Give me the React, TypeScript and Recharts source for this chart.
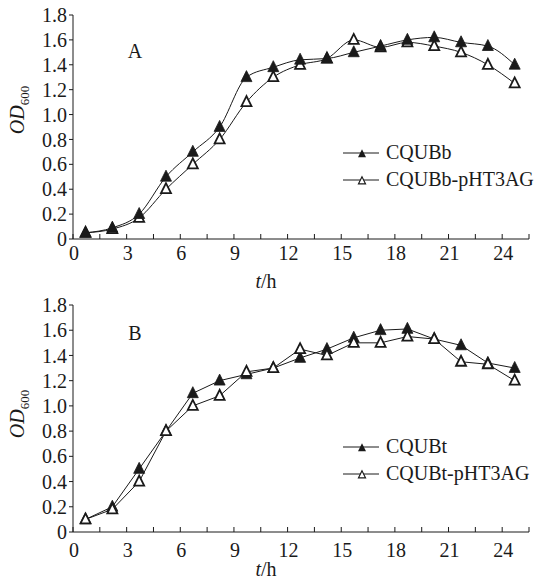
import React from 'react';
import { LineChart, Line, XAxis, YAxis, Legend } from 'recharts';

// ---- data ----
const hoursA = [0.7, 2.2, 3.7, 5.2, 6.7, 8.2, 9.7, 11.2, 12.7, 14.2, 15.7, 17.2, 18.7, 20.2, 21.7, 23.2, 24.7];
const cqubb = [0.05, 0.09, 0.2, 0.5, 0.7, 0.9, 1.3, 1.38, 1.44, 1.45, 1.5, 1.55, 1.6, 1.62, 1.58, 1.55, 1.4];
const cqubbPHT = [0.05, 0.08, 0.17, 0.4, 0.6, 0.8, 1.1, 1.3, 1.4, 1.45, 1.6, 1.54, 1.58, 1.55, 1.5, 1.4, 1.25];

const hoursB = [0.7, 2.2, 3.7, 5.2, 6.7, 8.2, 9.7, 11.2, 12.7, 14.2, 15.7, 17.2, 18.7, 20.2, 21.7, 23.2, 24.7];
const cqubt = [0.1, 0.2, 0.5, 0.8, 1.1, 1.2, 1.25, 1.3, 1.38, 1.45, 1.54, 1.6, 1.61, 1.53, 1.48, 1.34, 1.3];
const cqubtPHT = [0.1, 0.18, 0.4, 0.8, 1.0, 1.08, 1.27, 1.3, 1.45, 1.4, 1.5, 1.5, 1.55, 1.53, 1.35, 1.33, 1.2];

const namesA = ['CQUBb', 'CQUBb-pHT3AG'];
const namesB = ['CQUBt', 'CQUBt-pHT3AG'];

const xTicks = [0, 1.5, 3, 4.5, 6, 7.5, 9, 10.5, 12, 13.5, 15, 16.5, 18, 19.5, 21, 22.5, 24, 25.5];
const xLabelTicks = [0, 3, 6, 9, 12, 15, 18, 21, 24];
const yTicks = [0, 0.2, 0.4, 0.6, 0.8, 1.0, 1.2, 1.4, 1.6, 1.8];

const FONT = '"Liberation Serif", "Times New Roman", serif';
const INK = '#1a1a1a';

const triPoints = (cx: number, cy: number, w: number) =>
  `${cx},${cy - w * 0.6} ${cx - w / 2},${cy + w * 0.4} ${cx + w / 2},${cy + w * 0.4}`;

const FilledDot = (props: any) => {
  const { cx, cy, index } = props;
  if (cx == null || cy == null) return <g key={`f${index}`} />;
  return <polygon key={`f${index}`} points={triPoints(cx, cy, 11)} fill={INK} stroke={INK} strokeWidth={0.8} />;
};
const HollowDot = (props: any) => {
  const { cx, cy, index } = props;
  if (cx == null || cy == null) return <g key={`h${index}`} />;
  return <polygon key={`h${index}`} points={triPoints(cx, cy, 10)} fill="#fff" stroke={INK} strokeWidth={1.8} />;
};

const makeXTick = (margin: number, labelDy: number) => (props: any) => {
  const { x, y, payload } = props;
  const axisY = y - margin;
  const v = payload.value;
  return (
    <g>
      <line x1={x} x2={x} y1={axisY} y2={axisY - 5} stroke={INK} strokeWidth={1} />
      {xLabelTicks.includes(v) && (
        <text x={x + 1} y={axisY + labelDy} textAnchor="middle" fontSize={20} fontFamily={FONT} fill={INK}>
          {v}
        </text>
      )}
    </g>
  );
};

const LegendContent = (props: any) => {
  const items = [...(props.payload || [])].sort((p: any, q: any) => (p.dataKey > q.dataKey ? 1 : -1));
  return (
    <div style={{ fontFamily: FONT, fontSize: 20, color: INK, lineHeight: '27px' }}>
      {items.map((p: any, i: number) => (
        <div key={i} style={{ display: 'flex', alignItems: 'center', height: 27, whiteSpace: 'nowrap' }}>
          <svg width={43} height={14} style={{ display: 'block' }}>
            <line x1={0} x2={36} y1={7} y2={7} stroke={INK} strokeWidth={1} />
            {p.dataKey === 'a' ? (
              <polygon points={triPoints(19, 8, 8)} fill={INK} />
            ) : (
              <polygon points={triPoints(19, 8, 7)} fill="#fff" stroke={INK} strokeWidth={1.2} />
            )}
          </svg>
          <span>{p.value}</span>
        </div>
      ))}
    </div>
  );
};

type PanelProps = {
  top: number;
  height: number;
  plotTop: number;
  plotBottom: number;
  hours: number[];
  s1: number[];
  s2: number[];
  names: string[];
  letter: string;
  letterY: number;
  odY: number;
  thY: number;
  labelDy: number;
  legendTop: number;
  lineType: any;
  hollowOnTop: boolean;
};

const Panel = (p: PanelProps) => {
  const data = p.hours.map((t, i) => ({ t, a: p.s1[i], b: p.s2[i] }));
  const margin = 8;
  const XTick = makeXTick(margin, p.labelDy);
  const filled = (
    <Line key="a" dataKey="a" name={p.names[0]} type={p.lineType} stroke={INK} strokeWidth={1}
      dot={FilledDot} activeDot={false} isAnimationActive={false} />
  );
  const hollow = (
    <Line key="b" dataKey="b" name={p.names[1]} type={p.lineType} stroke={INK} strokeWidth={1}
      dot={HollowDot} activeDot={false} isAnimationActive={false} />
  );
  const labelEl = (
    <g>
      <text
        x={24}
        y={p.odY}
        transform={`rotate(-90, 24, ${p.odY})`}
        textAnchor="middle"
        fontFamily={FONT}
        fontSize={20}
        fill={INK}
      >
        <tspan fontStyle="italic">OD</tspan>
        <tspan fontSize={13} dy={5}>600</tspan>
      </text>
      <text x={135} y={p.letterY} textAnchor="middle" fontFamily={FONT} fontSize={20} fill={INK}>
        {p.letter}
      </text>
      <text x={266} y={p.thY} textAnchor="middle" fontFamily={FONT} fontSize={20} fill={INK}>
        <tspan fontStyle="italic">t</tspan>
        <tspan>/h</tspan>
      </text>
    </g>
  );
  return (
    <div style={{ position: 'absolute', left: 0, top: p.top, width: 547, height: p.height }}>
      <LineChart width={547} height={p.height} data={data}
        margin={{ top: p.plotTop, right: 18, left: 0, bottom: 0 }}>
        <XAxis
          type="number"
          dataKey="t"
          domain={[0, 25.5]}
          ticks={xTicks}
          interval={0}
          tickSize={0}
          tickMargin={margin}
          tickLine={false}
          tick={XTick}
          height={p.height - p.plotBottom}
          stroke={INK}
          allowDataOverflow
        />
        <YAxis
          type="number"
          domain={[0, 1.8]}
          ticks={yTicks}
          interval={0}
          width={73}
          tickSize={4}
          tickMargin={2}
          stroke={INK}
          tick={{ fontSize: 20, fill: INK, fontFamily: FONT }}
          tickFormatter={(v: number) => (v === 0 ? '0' : v.toFixed(1))}
          label={labelEl}
        />
        <Legend
          layout="vertical"
          align="center"
          verticalAlign="middle"
          content={LegendContent}
          wrapperStyle={{ position: 'absolute', left: 343, top: p.legendTop, width: 200 }}
        />
        {p.hollowOnTop ? [filled, hollow] : [hollow, filled]}
      </LineChart>
    </div>
  );
}

export default function App() {
  return (
    <div style={{ position: 'absolute', left: 0, top: 0, width: 547, height: 581, background: '#fff' }}>
      <Panel
        top={0}
        height={298}
        plotTop={15}
        plotBottom={239}
        hours={hoursA}
        s1={cqubb}
        s2={cqubbPHT}
        names={namesA}
        letter="A"
        letterY={58}
        odY={110}
        thY={288}
        labelDy={21}
        legendTop={139}
        lineType="monotone"
        hollowOnTop={false}
      />
      <Panel
        top={291}
        height={290}
        plotTop={14}
        plotBottom={241}
        hours={hoursB}
        s1={cqubt}
        s2={cqubtPHT}
        names={namesB}
        letter="B"
        letterY={49}
        odY={123}
        thY={285}
        labelDy={25}
        legendTop={142}
        lineType="linear"
        hollowOnTop={true}
      />
    </div>
  );
}
